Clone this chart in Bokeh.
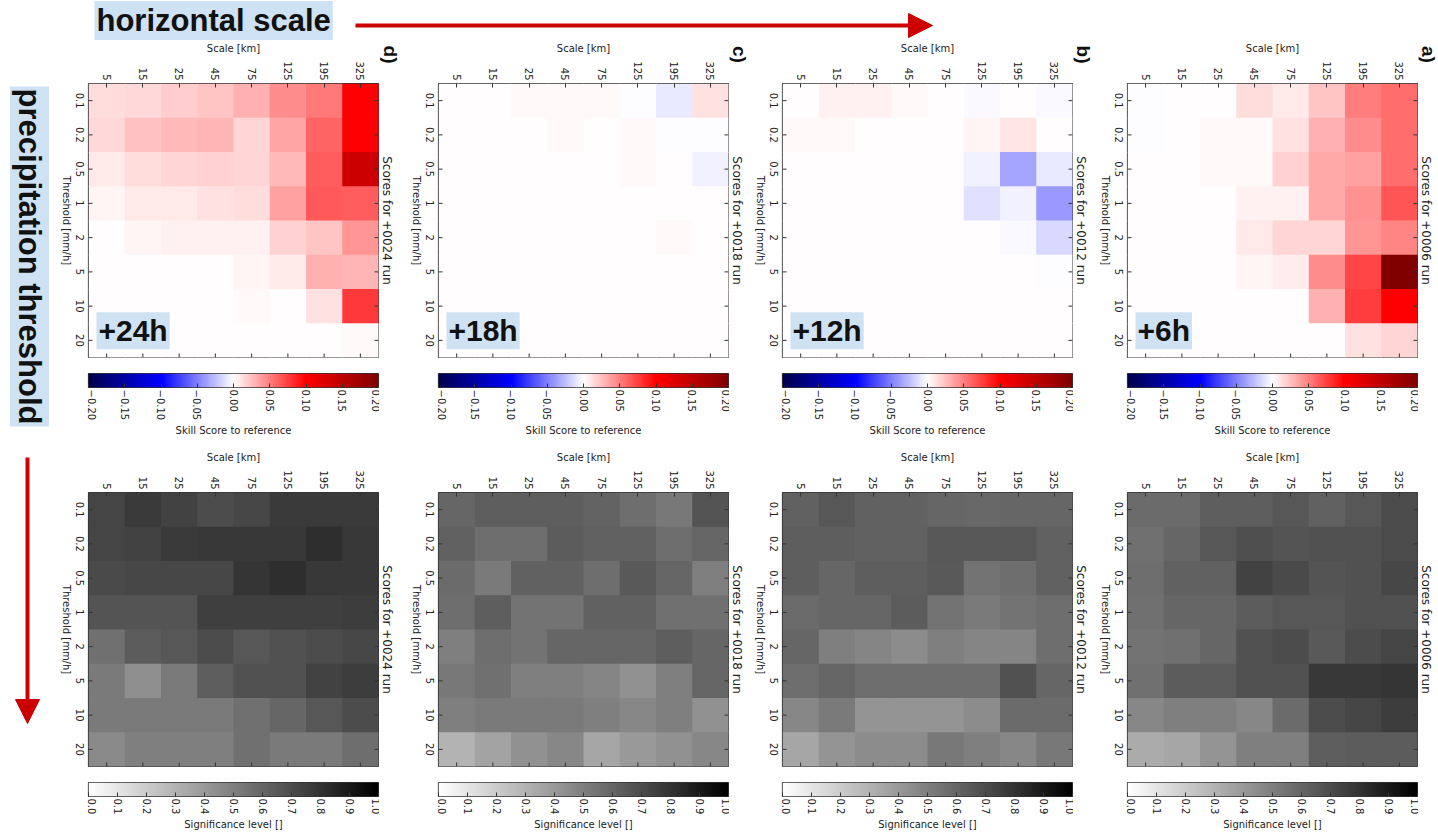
import math
import numpy as np
from bokeh.plotting import figure
from bokeh.layouts import column, row
from bokeh.models import (FactorRange, Range1d, Label, Arrow, NormalHead,
                          LinearColorMapper, FixedTicker, ColumnDataSource, Spacer)
from bokeh.embed import file_html
from bokeh.resources import INLINE

# ---------------- data ----------------
scales = ["5", "15", "25", "45", "75", "125", "195", "325"]          # Scale [km]
thresholds = ["0.1", "0.2", "0.5", "1", "2", "5", "10", "20"]       # Threshold [mm/h]
runs = ["+0024", "+0018", "+0012", "+0006"]                          # panels left -> right
panel_letters = ["d)", "c)", "b)", "a)"]
lead_labels = ["+24h", "+18h", "+12h", "+6h"]

# skill score to reference; rows = thresholds, cols = scales
skill_24h = [
    [0.013, 0.015, 0.020, 0.022, 0.031, 0.045, 0.053, 0.100],
    [0.015, 0.024, 0.027, 0.029, 0.016, 0.035, 0.060, 0.100],
    [0.009, 0.013, 0.017, 0.018, 0.017, 0.027, 0.063, 0.140],
    [0.004, 0.008, 0.009, 0.011, 0.013, 0.037, 0.065, 0.063],
    [0.000, 0.004, 0.006, 0.006, 0.006, 0.018, 0.022, 0.041],
    [0.000, 0.000, 0.000, 0.000, 0.004, 0.009, 0.031, 0.029],
    [0.000, 0.000, 0.000, 0.000, 0.002, 0.000, 0.012, 0.077],
    [0.000, 0.000, 0.000, 0.000, 0.000, 0.000, 0.000, 0.002],
]
skill_18h = [
    [0.000, 0.000, 0.002, 0.002, 0.002, -0.001, -0.008, 0.012],
    [0.000, 0.000, 0.000, 0.002, 0.000, 0.002, -0.001, -0.001],
    [0.000, 0.000, 0.000, 0.000, 0.000, 0.002, 0.000, -0.006],
    [0.000, 0.000, 0.000, 0.000, 0.000, 0.000, 0.000, 0.000],
    [0.000, 0.000, 0.000, 0.000, 0.000, 0.000, 0.002, 0.000],
    [0.000, 0.000, 0.000, 0.000, 0.000, 0.000, 0.000, 0.000],
    [0.000, 0.000, 0.000, 0.000, 0.000, 0.000, 0.000, 0.000],
    [0.000, 0.000, 0.000, 0.000, 0.000, 0.000, 0.000, 0.000],
]
skill_12h = [
    [0.000, 0.005, 0.005, 0.003, 0.000, -0.003, 0.000, -0.003],
    [0.003, 0.003, 0.000, 0.000, 0.000, 0.004, 0.010, 0.000],
    [0.000, 0.000, 0.000, 0.000, 0.000, -0.006, -0.035, -0.008],
    [0.000, 0.000, 0.000, 0.000, 0.000, -0.012, -0.006, -0.040],
    [0.000, 0.000, 0.000, 0.000, 0.000, 0.000, -0.002, -0.015],
    [0.000, 0.000, 0.000, 0.000, 0.000, 0.000, 0.000, -0.001],
    [0.000, 0.000, 0.000, 0.000, 0.000, 0.000, 0.000, 0.000],
    [0.000, 0.000, 0.000, 0.000, 0.000, 0.000, 0.000, 0.000],
]
skill_06h = [
    [-0.001, 0.000, 0.000, 0.014, 0.009, 0.022, 0.050, 0.057],
    [-0.001, 0.000, 0.002, 0.003, 0.012, 0.031, 0.045, 0.057],
    [0.000, 0.000, 0.002, 0.002, 0.018, 0.033, 0.037, 0.057],
    [0.000, 0.000, 0.000, 0.006, 0.006, 0.033, 0.043, 0.067],
    [0.000, 0.000, 0.000, 0.008, 0.016, 0.016, 0.041, 0.047],
    [0.000, 0.000, 0.000, 0.004, 0.007, 0.045, 0.073, 0.200],
    [0.000, 0.000, 0.000, 0.000, 0.000, 0.031, 0.075, 0.100],
    [0.000, 0.000, 0.000, 0.000, 0.000, 0.001, 0.012, 0.016],
]

# significance level
sig_24h = [
    [0.73, 0.77, 0.74, 0.70, 0.72, 0.77, 0.77, 0.77],
    [0.73, 0.74, 0.77, 0.78, 0.78, 0.78, 0.82, 0.78],
    [0.71, 0.72, 0.72, 0.72, 0.79, 0.82, 0.78, 0.78],
    [0.67, 0.67, 0.67, 0.75, 0.75, 0.75, 0.75, 0.76],
    [0.56, 0.64, 0.66, 0.70, 0.66, 0.68, 0.70, 0.72],
    [0.52, 0.44, 0.52, 0.63, 0.68, 0.68, 0.74, 0.76],
    [0.52, 0.52, 0.52, 0.52, 0.56, 0.60, 0.66, 0.70],
    [0.46, 0.50, 0.50, 0.50, 0.56, 0.52, 0.52, 0.57],
]
sig_18h = [
    [0.60, 0.63, 0.63, 0.63, 0.61, 0.57, 0.53, 0.67],
    [0.62, 0.57, 0.57, 0.64, 0.62, 0.62, 0.57, 0.60],
    [0.58, 0.52, 0.62, 0.62, 0.57, 0.65, 0.60, 0.50],
    [0.57, 0.63, 0.55, 0.55, 0.62, 0.62, 0.56, 0.56],
    [0.50, 0.57, 0.55, 0.60, 0.60, 0.60, 0.63, 0.60],
    [0.53, 0.56, 0.50, 0.50, 0.48, 0.43, 0.50, 0.60],
    [0.50, 0.52, 0.52, 0.52, 0.50, 0.47, 0.50, 0.43],
    [0.30, 0.36, 0.43, 0.47, 0.35, 0.40, 0.43, 0.47],
]
sig_12h = [
    [0.62, 0.66, 0.62, 0.62, 0.60, 0.59, 0.60, 0.60],
    [0.63, 0.63, 0.62, 0.62, 0.66, 0.66, 0.66, 0.62],
    [0.63, 0.60, 0.63, 0.63, 0.65, 0.55, 0.57, 0.62],
    [0.58, 0.60, 0.60, 0.64, 0.55, 0.52, 0.55, 0.57],
    [0.60, 0.50, 0.48, 0.45, 0.50, 0.48, 0.48, 0.57],
    [0.57, 0.60, 0.57, 0.57, 0.57, 0.57, 0.68, 0.60],
    [0.47, 0.52, 0.42, 0.42, 0.42, 0.45, 0.58, 0.58],
    [0.35, 0.42, 0.45, 0.45, 0.53, 0.50, 0.47, 0.53],
]
sig_06h = [
    [0.58, 0.58, 0.63, 0.63, 0.66, 0.62, 0.66, 0.70],
    [0.56, 0.60, 0.66, 0.69, 0.67, 0.68, 0.68, 0.70],
    [0.57, 0.62, 0.62, 0.74, 0.71, 0.67, 0.68, 0.72],
    [0.56, 0.60, 0.60, 0.64, 0.66, 0.66, 0.68, 0.68],
    [0.55, 0.56, 0.60, 0.68, 0.70, 0.65, 0.70, 0.73],
    [0.56, 0.64, 0.64, 0.68, 0.68, 0.78, 0.78, 0.79],
    [0.47, 0.50, 0.50, 0.47, 0.58, 0.70, 0.73, 0.76],
    [0.33, 0.35, 0.42, 0.50, 0.50, 0.63, 0.64, 0.64],
]

skill_panels = [skill_24h, skill_18h, skill_12h, skill_06h]
sig_panels = [sig_24h, sig_18h, sig_12h, sig_06h]

skill_ticks = [-0.2, -0.15, -0.1, -0.05, 0.0, 0.05, 0.1, 0.15, 0.2]
skill_tick_labels = ["\u22120.20", "\u22120.15", "\u22120.10", "\u22120.05", "0.00",
                     "0.05", "0.10", "0.15", "0.20"]
sig_ticks = [0.0, 0.1, 0.2, 0.3, 0.4, 0.5, 0.6, 0.7, 0.8, 0.9, 1.0]
sig_tick_labels = ["0.0", "0.1", "0.2", "0.3", "0.4", "0.5", "0.6", "0.7", "0.8", "0.9", "1.0"]

# ---------------- palettes ----------------
def _hex(r, g, b):
    return "#%02x%02x%02x" % (int(round(r * 255)), int(round(g * 255)), int(round(b * 255)))

def seismic_palette(n=256):
    anchors = np.linspace(0, 1, 5)
    cols = np.array([(0, 0, 0.3), (0, 0, 1), (1, 1, 1), (1, 0, 0), (0.5, 0, 0)])
    t = np.linspace(0, 1, n)
    r = np.interp(t, anchors, cols[:, 0])
    g = np.interp(t, anchors, cols[:, 1])
    b = np.interp(t, anchors, cols[:, 2])
    return [_hex(*c) for c in zip(r, g, b)]

def grey_r_palette(n=256):
    t = np.linspace(1, 0, n)
    return [_hex(v, v, v) for v in t]

SEISMIC = seismic_palette()
GREYR = grey_r_palette()

FONT = "DejaVu Sans"
TXT = "#222222"
BOLD = "Liberation Sans"
BOX = "#cfe2f3"
RED = "#cc0000"
EDGE = "#333333"

col_widths = [350, 344, 345, 344]
LSTRIP = 32          # width of the strip holding the threshold labels
HEAT_W = 292         # 1 + 290 frame + 1
letter_x = [11, 10, 10, 10]


def bare(p):
    p.axis.visible = False
    p.grid.visible = False
    p.outline_line_color = None
    return p


def threshold_strip(y_range, height, top, bottom):
    p = figure(width=LSTRIP, height=height, x_range=Range1d(0, LSTRIP), y_range=y_range,
               output_backend="svg", toolbar_location=None,
               min_border_left=0, min_border_right=0,
               min_border_top=top, min_border_bottom=bottom)
    bare(p)
    src = ColumnDataSource(dict(threshold=thresholds))
    p.text(x=24, y="threshold", text="threshold", source=src, angle=-math.pi / 2,
           text_align="center", text_baseline="middle", text_font={"value": FONT},
           text_font_size="10px", text_color=TXT)
    p.add_layout(Label(x=11, y=len(thresholds) / 2, text="Threshold [mm/h]",
                       angle=-math.pi / 2, text_align="center", text_baseline="middle",
                       text_font=FONT, text_font_size="10px", text_color=TXT))
    return p


def title_strip(width, height, run, title_y, letter=None, lx=10):
    p = figure(width=width, height=height, x_range=Range1d(0, width),
               y_range=Range1d(height, 0), output_backend="svg",
               toolbar_location=None, min_border=0, frame_align=False)
    bare(p)
    p.add_layout(Label(x=7, y=title_y, text="Scores for %s run" % run,
                       angle=-math.pi / 2, text_align="center", text_baseline="middle",
                       text_font=FONT, text_font_size="12px", text_color=TXT))
    if letter:
        p.add_layout(Label(x=lx, y=14, text=letter, angle=-math.pi / 2,
                           text_align="center", text_baseline="middle",
                           text_font=BOLD, text_font_size="19px",
                           text_font_style="bold", text_color="#111111"))
    return p


def heat_panel(values, palette, low, high, y_range, height, top, bottom, lead=None):
    p = figure(width=HEAT_W, height=height,
               x_range=FactorRange(*scales), y_range=y_range,
               x_axis_location="above", output_backend="svg", toolbar_location=None,
               min_border_left=1, min_border_right=1,
               min_border_top=top, min_border_bottom=bottom)
    xs, ys, vs = [], [], []
    for i, t in enumerate(thresholds):
        for j, s in enumerate(scales):
            xs.append(s)
            ys.append(t)
            vs.append(values[i][j])
    src = ColumnDataSource(dict(scale=xs, threshold=ys, value=vs))
    mapper = LinearColorMapper(palette=palette, low=low, high=high)
    p.rect(x="scale", y="threshold", width=1, height=1, source=src,
           fill_color={"field": "value", "transform": mapper},
           line_color=None, dilate=True)

    # inward tick marks on the left, right and bottom edges of the frame
    ysrc = ColumnDataSource(dict(threshold=thresholds))
    xsrc = ColumnDataSource(dict(scale=scales))
    p.ray(x=0, y="threshold", source=ysrc, length=4, length_units="screen",
          angle=0, line_color=EDGE, line_width=1)
    p.ray(x=len(scales), y="threshold", source=ysrc, length=4, length_units="screen",
          angle=math.pi, line_color=EDGE, line_width=1)
    p.ray(x="scale", y=0, source=xsrc, length=4, length_units="screen",
          angle=math.pi / 2, line_color=EDGE, line_width=1)

    p.grid.visible = False
    p.yaxis.visible = False
    p.outline_line_color = EDGE
    p.outline_line_width = 1.2

    xa = p.xaxis[0]
    xa.axis_label = "Scale [km]"
    xa.axis_label_text_font = FONT
    xa.axis_label_text_font_size = "10px"
    xa.axis_label_text_font_style = "normal"
    xa.axis_label_text_color = TXT
    xa.axis_label_standoff = 4
    xa.major_label_text_font = FONT
    xa.major_label_text_font_size = "10px"
    xa.major_label_text_color = TXT
    xa.major_label_standoff = 3
    xa.major_label_orientation = -math.pi / 2
    xa.major_tick_in = 4
    xa.major_tick_out = 0
    xa.major_tick_line_color = EDGE
    xa.axis_line_color = None

    if lead:
        p.add_layout(Label(x=0.22, y=0.24, text=lead, text_align="left",
                           text_baseline="bottom", text_font=BOLD,
                           text_font_size="30px", text_font_style="bold",
                           text_color="#111111", background_fill_color=BOX,
                           padding=2))
    return p


def cbar_panel(palette, low, high, ticks, labels, label, height, top, bottom):
    p = figure(width=HEAT_W, height=height, x_range=Range1d(low, high),
               y_range=Range1d(0, 1), output_backend="svg", toolbar_location=None,
               min_border_left=1, min_border_right=1,
               min_border_top=top, min_border_bottom=bottom)
    mapper = LinearColorMapper(palette=palette, low=low, high=high)
    p.image(image=[np.linspace(low, high, 512).reshape(1, -1)], x=low, y=0,
            dw=high - low, dh=1, color_mapper=mapper)
    p.grid.visible = False
    p.yaxis.visible = False
    p.outline_line_color = EDGE
    p.outline_line_width = 1.2
    ax = p.xaxis[0]
    ax.axis_label = label
    ax.axis_label_text_font = FONT
    ax.axis_label_text_font_size = "10px"
    ax.axis_label_text_font_style = "normal"
    ax.axis_label_text_color = TXT
    ax.axis_label_standoff = 2
    ax.major_label_text_font = FONT
    ax.major_label_text_font_size = "10px"
    ax.major_label_text_color = TXT
    ax.major_label_standoff = 2
    ax.major_label_orientation = -math.pi / 2
    ax.major_tick_in = 4
    ax.major_tick_out = 0
    ax.major_tick_line_color = EDGE
    ax.axis_line_color = None
    ax.ticker = FixedTicker(ticks=ticks)
    ax.major_label_overrides = {t: l for t, l in zip(ticks, labels)}
    return p


# vertical geometry: (height, top border, bottom border)
TOP_H, TOP_T, TOP_B = 327, 43, 10
CB1_H, CB1_T, CB1_B = 73, 6, 53
BOT_H, BOT_T, BOT_B = 332, 52, 6
CB2_H, CB2_T, CB2_B = 61, 10, 37

columns = []
for k in range(4):
    rw = col_widths[k] - LSTRIP - HEAT_W
    yr_top = FactorRange(*reversed(thresholds))
    yr_bot = FactorRange(*reversed(thresholds))

    top_row = row(
        threshold_strip(yr_top, TOP_H, TOP_T, TOP_B),
        heat_panel(skill_panels[k], SEISMIC, -0.2, 0.2, yr_top, TOP_H, TOP_T, TOP_B,
                   lead=lead_labels[k]),
        title_strip(rw, TOP_H, runs[k], TOP_T + (TOP_H - TOP_T - TOP_B) / 2,
                    letter=panel_letters[k], lx=letter_x[k]),
        spacing=0)
    cb1_row = row(
        Spacer(width=LSTRIP, height=CB1_H),
        cbar_panel(SEISMIC, -0.2, 0.2, skill_ticks, skill_tick_labels,
                   "Skill Score to reference", CB1_H, CB1_T, CB1_B),
        Spacer(width=rw, height=CB1_H),
        spacing=0)
    bot_row = row(
        threshold_strip(yr_bot, BOT_H, BOT_T, BOT_B),
        heat_panel(sig_panels[k], GREYR, 0.0, 1.0, yr_bot, BOT_H, BOT_T, BOT_B),
        title_strip(rw, BOT_H, runs[k], BOT_T + (BOT_H - BOT_T - BOT_B) / 2),
        spacing=0)
    cb2_row = row(
        Spacer(width=LSTRIP, height=CB2_H),
        cbar_panel(GREYR, 0.0, 1.0, sig_ticks, sig_tick_labels,
                   "Significance level []", CB2_H, CB2_T, CB2_B),
        Spacer(width=rw, height=CB2_H),
        spacing=0)
    columns.append(column(top_row, cb1_row, bot_row, cb2_row, spacing=0))

# header: horizontal scale arrow
header = figure(width=1438, height=40, x_range=Range1d(0, 1438), y_range=Range1d(40, 0),
                output_backend="svg", toolbar_location=None, min_border=0,
                frame_align=False)
bare(header)
header.add_layout(Label(x=94, y=20, text="horizontal scale", text_align="left",
                        text_baseline="middle", text_font=BOLD, text_font_size="31px",
                        text_font_style="bold", text_color="#111111",
                        background_fill_color=BOX, padding=2))
header.add_layout(Arrow(x_start=355, y_start=25, x_end=932, y_end=25,
                        line_color=RED, line_width=4,
                        end=NormalHead(size=24, fill_color=RED, line_color=RED)))

# left strip: precipitation threshold arrow
left = figure(width=55, height=793, x_range=Range1d(0, 55), y_range=Range1d(793, 0),
              output_backend="svg", toolbar_location=None, min_border=0,
              frame_align=False)
bare(left)
left.add_layout(Label(x=29, y=216, text="precipitation threshold", angle=-math.pi / 2,
                      text_align="center", text_baseline="middle", text_font=BOLD,
                      text_font_size="31px", text_font_style="bold",
                      text_color="#111111", background_fill_color=BOX, padding=2))
left.add_layout(Arrow(x_start=27, y_start=417, x_end=27, y_end=683,
                      line_color=RED, line_width=4,
                      end=NormalHead(size=24, fill_color=RED, line_color=RED)))

layout = column(header, row(left, *columns, spacing=0), spacing=0)

open("out.html", "w").write(file_html(layout, INLINE))
